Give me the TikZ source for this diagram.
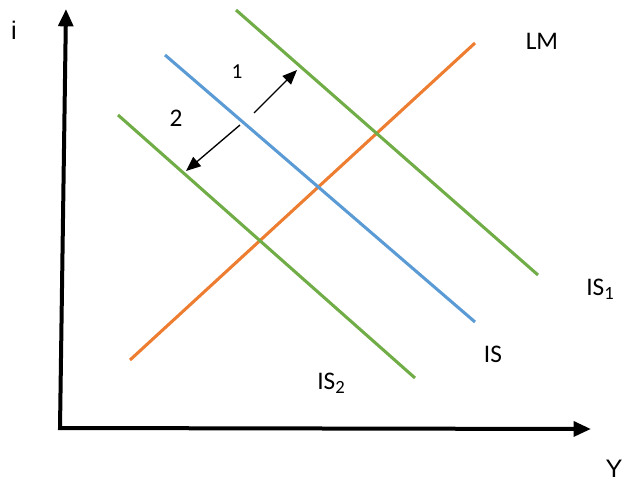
\documentclass[tikz,border=0pt]{standalone}
\usepackage{fontspec}
\setmainfont{Carlito}
\newfontfamily\arialfont{Liberation Sans}
\usetikzlibrary{arrows.meta}
\definecolor{lmorange}{HTML}{ED7D31}
\definecolor{isblue}{HTML}{5B9BD5}
\definecolor{isgreen}{HTML}{70AD47}
\newcommand{\lowsub}[1]{\raisebox{-0.35ex}{\fontsize{14}{16}\selectfont #1}}
\begin{document}
\begin{tikzpicture}[x=0.75pt,y=-0.75pt,
  axis/.style={line width=3pt,-{Triangle[length=13pt,width=11pt]}},
  curve/.style={line width=2.3pt},
  movearrow/.style={line width=1pt,-{Triangle[length=11pt,width=9pt]}},
  lbl/.style={font=\fontsize{19}{22}\selectfont,inner sep=0pt}]
\useasboundingbox (0,0) rectangle (624,481);
% axes
\coordinate (O) at (60,428);
\coordinate (itop) at (66,9);
\coordinate (yend) at (591,429);
\draw[axis] (O) -- (itop);
\draw[axis] ([xshift=-1.5pt]O) -- (yend);
% curves
\coordinate (lm1) at (130,360); \coordinate (lm2) at (475,43);
\coordinate (is1) at (165,55);  \coordinate (is2) at (475,322);
\coordinate (isa1) at (236,10); \coordinate (isa2) at (538,275);
\coordinate (isb1) at (118,115);\coordinate (isb2) at (415,378);
\draw[curve,lmorange] (lm1) -- (lm2);
\draw[curve,isblue] (is1) -- (is2);
\draw[curve,isgreen] (isa1) -- (isa2);
\draw[curve,isgreen] (isb1) -- (isb2);
% shift arrows
\coordinate (a1s) at (254,113); \coordinate (a1e) at (297,70);
\coordinate (a2s) at (240,125); \coordinate (a2e) at (186,171);
\draw[movearrow] (a1s) -- (a1e);
\draw[movearrow] (a2s) -- (a2e);
% labels
\node[lbl] (li) at (14,30) {\arialfont i};
\node[lbl] (lLM) at (542,41) {LM};
\node[lbl] (lIS1) at (600,289) {IS\lowsub{1}};
\node[lbl] (lIS) at (493,354) {IS};
\node[lbl] (lIS2) at (331,383) {IS\lowsub{2}};
\node[lbl] (lY) at (614,469) {\arialfont Y};
\node[lbl,font=\fontsize{16}{18}\selectfont] (l1) at (237,72) {1};
\node[lbl] (l2) at (176,118) {2};
\end{tikzpicture}
\end{document}
